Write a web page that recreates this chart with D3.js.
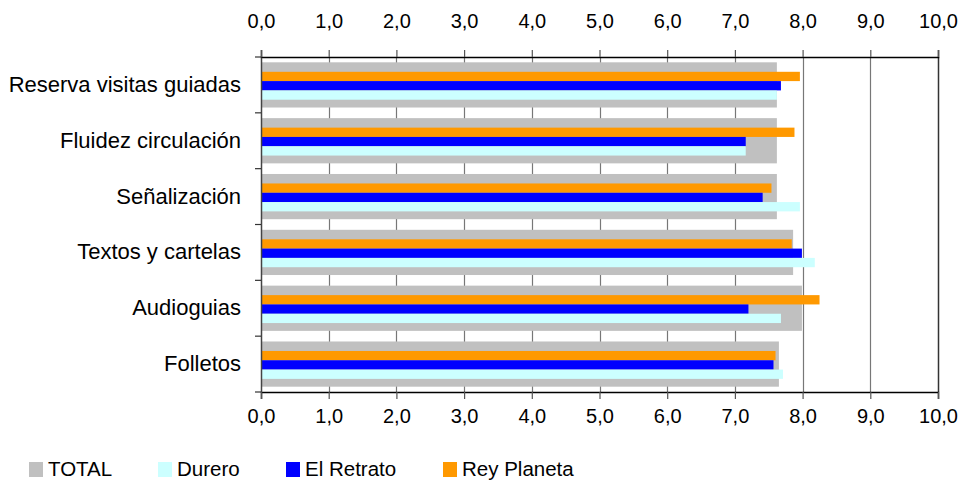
<!DOCTYPE html>
<html><head><meta charset="utf-8">
<script src="https://cdn.jsdelivr.net/npm/d3@7"></script>
<style>body{margin:0;background:#fff}svg{display:block;font-family:"Liberation Sans",Arial,sans-serif}</style>
</head><body><svg id="c" width="961" height="482"></svg>
<script>
const categories = ["Reserva visitas guiadas","Fluidez circulación","Señalización","Textos y cartelas","Audioguias","Folletos"];
const totalValues = [7.62,7.62,7.62,7.86,7.99,7.65];
const dureroValues = [7.62,7.16,7.96,8.18,7.68,7.71];
const retratoValues = [7.68,7.16,7.41,7.99,7.20,7.57];
const reyValues = [7.96,7.88,7.54,7.84,8.25,7.60];
const tickValues = [0,1,2,3,4,5,6,7,8,9,10];
const seriesNames = ["TOTAL","Durero","El Retrato","Rey Planeta"];
const colors = {"TOTAL":"#c0c0c0","Durero":"#ccffff","El Retrato":"#0000ff","Rey Planeta":"#ff9900"};

const svg = d3.select("#c");
const L = 261, R = 938, T = 57, B = 392;
const x = d3.scaleLinear().domain([0,10]).range([L,R]);
const y = d3.scaleBand().domain(categories).range([T,B]);
const bw = y.bandwidth();
const fmt = d => d.toFixed(1).replace(".", ",");

// gridlines
svg.append("g").selectAll("line").data(tickValues.slice(1)).join("line")
  .attr("x1", d => Math.round(x(d)) + 0.5).attr("x2", d => Math.round(x(d)) + 0.5)
  .attr("y1", T).attr("y2", B)
  .attr("stroke", d => d === 10 ? "#333" : "#777").attr("stroke-width", d => d === 10 ? 1.5 : 1.2);

// TOTAL wide bars
const totalH = bw * 0.81;
svg.append("g").selectAll("rect").data(categories).join("rect")
  .attr("x", L).attr("y", (d) => y(d) + (bw - totalH) / 2)
  .attr("width", (d,i) => x(totalValues[i]) - L).attr("height", totalH)
  .attr("fill", colors["TOTAL"]);

// inner series bars (top to bottom: Rey Planeta, El Retrato, Durero)
const inner = [["Rey Planeta", reyValues],["El Retrato", retratoValues],["Durero", dureroValues]];
const sub = d3.scaleBand().domain(inner.map(s => s[0])).range([0, bw * 0.5]).padding(0);
inner.forEach(([name, vals]) => {
  svg.append("g").selectAll("rect").data(categories).join("rect")
    .attr("x", L).attr("y", d => y(d) + bw * 0.265 + sub(name))
    .attr("width", (d,i) => x(vals[i]) - L).attr("height", sub.bandwidth())
    .attr("fill", colors[name]);
});

// axes
const topAx = svg.append("g").attr("transform", `translate(0,${T})`)
  .call(d3.axisTop(x).tickValues(tickValues).tickFormat(fmt).tickSize(7).tickPadding(22));
const botAx = svg.append("g").attr("transform", `translate(0,${B})`)
  .call(d3.axisBottom(x).tickValues(tickValues).tickFormat(fmt).tickSize(7).tickPadding(10));
[topAx, botAx].forEach(g => {
  g.select(".domain").attr("stroke", "#000").attr("stroke-width", 1.5);
  g.selectAll(".tick line").attr("stroke", "#555").attr("stroke-width", 1.2);
  g.selectAll("text").attr("font-size", 20).attr("fill", "#000").attr("font-family", "Liberation Sans, Arial, sans-serif");
});

// left axis
const leftAx = svg.append("g").attr("transform", `translate(${L},0)`)
  .call(d3.axisLeft(y).tickSize(0).tickPadding(20));
leftAx.select(".domain").attr("stroke", "#444").attr("stroke-width", 1.5);
leftAx.selectAll("text").attr("font-size", 22).attr("fill", "#000").attr("font-family", "Liberation Sans, Arial, sans-serif");
// boundary ticks
svg.append("g").selectAll("line").data(d3.range(categories.length + 1)).join("line")
  .attr("x1", L - 6).attr("x2", L)
  .attr("y1", i => T + i * bw).attr("y2", i => T + i * bw)
  .attr("stroke", "#333").attr("stroke-width", 1.2);

// legend
const legX = [29, 158, 286, 443];
const leg = svg.append("g").selectAll("g").data(seriesNames).join("g")
  .attr("transform", (d,i) => `translate(${legX[i]},462)`);
leg.append("rect").attr("width", 14).attr("height", 15).attr("fill", d => colors[d]);
leg.append("text").attr("x", 19).attr("y", 14).attr("font-size", 20.5).attr("fill", "#000").text(d => d);
</script></body></html>
